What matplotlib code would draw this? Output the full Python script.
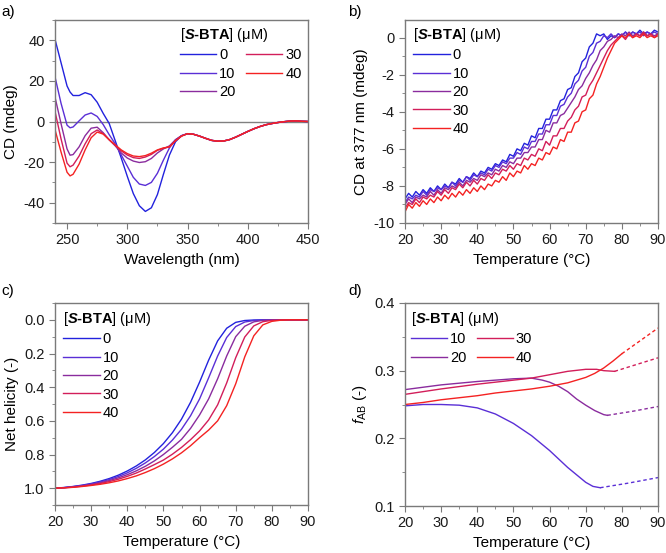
import numpy as np
import matplotlib
matplotlib.use("Agg")
import matplotlib.pyplot as plt
from matplotlib.ticker import MultipleLocator

plt.rcParams["font.family"] = ["Liberation Sans", "DejaVu Sans"]
plt.rcParams["axes.unicode_minus"] = False
plt.rcParams["mathtext.fontset"] = "custom"
plt.rcParams["mathtext.rm"] = "Liberation Sans"
plt.rcParams["mathtext.it"] = "Liberation Sans:italic"
plt.rcParams["mathtext.bf"] = "Liberation Sans:bold"
plt.rcParams["mathtext.bfit"] = "Liberation Sans:italic:bold"

# ---------------------------------------------------------------- data
conc = ["0", "10", "20", "30", "40"]
colors = ["#2222dd", "#5a2fd6", "#8a2c9e", "#d21e5a", "#f42222"]

# (a) CD spectra
wl = [240, 245, 250, 252.5, 255, 260, 265, 270, 275, 280, 285, 290, 295, 300, 305, 310,
      315, 320, 325, 330, 335, 340, 345, 350, 355, 360, 365, 370, 375, 380, 385, 390,
      395, 400, 405, 410, 415, 420, 425, 430, 435, 440, 445, 450]
tail = [-6.3, -7.2, -8.3, -9.3, -9.7, -9.6, -8.9, -7.7, -6.3, -4.9, -3.6, -2.5, -1.6,
        -1.0, -0.5, -0.1, 0.2, 0.3, 0.1, 0.0]
cd_0 = [40.5, 29, 17.5, 14.5, 12.8, 12.8, 14.2, 13.2, 9.5, 4.0, -1.0, -9.5, -18, -27,
        -35.5, -41.5, -44.3, -42.5, -36, -26, -16.5, -10, -7, -6.0] + tail
cd_10 = [22, 9, -1.8, -3.1, -2.7, 0.3, 3.2, 4.2, 2.5, -1.5, -6.5, -11, -16.5, -22,
         -27.5, -30.8, -31.5, -30, -25.5, -19, -13, -9, -7, -6.0] + tail
cd_20 = [12, -1, -13.5, -16.6, -16.3, -12.5, -7, -3.3, -2.8, -5.5, -9, -12, -15.5, -18,
         -19.5, -20.2, -19.8, -18.2, -15.5, -13.5, -12, -9, -7, -6.0] + tail
cd_30 = [5, -8.5, -20.5, -22.3, -21.5, -17, -11, -6.0, -4.2, -6, -9, -11.8, -14.5, -16.5,
         -17.8, -18.2, -17.5, -16.2, -14.2, -13.2, -12.5, -9.5, -7.2, -6.0] + tail
cd_40 = [-4, -15, -25, -26.8, -26, -21, -14, -8, -5.2, -6.2, -9, -11.5, -14, -15.8,
         -17, -17.3, -16.8, -15.6, -14, -13, -12.5, -9.5, -7.2, -6.0] + tail

# (b) CD at 377 nm vs temperature, 1 degC steps 20..90
temp_b = list(range(20, 91))
cdT_0 = [-8.7, -8.4, -8.6, -8.3, -8.5, -8.2, -8.4, -8.1, -8.3, -8.0, -8.2, -7.9, -8.1, -7.8,
         -7.9, -7.6, -7.8, -7.5, -7.6, -7.3, -7.5, -7.2, -7.3, -7.0, -7.1, -6.8, -6.9, -6.6,
         -6.7, -6.3, -6.4, -6.0, -6.1, -5.7, -5.8, -5.3, -5.4, -4.9, -4.9, -4.4, -4.4, -3.9,
         -3.9, -3.4, -3.3, -2.8, -2.7, -2.1, -1.9, -1.3, -1.1, -0.5, -0.3, 0.2, 0.1, 0.2,
         -0.1, 0.1, 0.0, 0.2, 0.1, 0.3, 0.1, 0.3, 0.2, 0.4, 0.2, 0.3, 0.2, 0.4, 0.3]
cdT_10 = [-8.9, -8.6, -8.7, -8.5, -8.6, -8.3, -8.5, -8.2, -8.3, -8.1, -8.2, -8.0, -8.1, -7.8,
          -8.0, -7.7, -7.8, -7.5, -7.7, -7.4, -7.5, -7.3, -7.4, -7.1, -7.2, -6.9, -7.0, -6.7,
          -6.8, -6.5, -6.5, -6.2, -6.3, -5.9, -6.0, -5.6, -5.6, -5.2, -5.2, -4.7, -4.7, -4.2,
          -4.2, -3.7, -3.6, -3.2, -3.0, -2.5, -2.3, -1.8, -1.6, -1.0, -0.8, -0.3, -0.2, 0.1,
          0.0, 0.2, 0.0, 0.2, 0.1, 0.3, 0.1, 0.3, 0.2, 0.3, 0.1, 0.3, 0.2, 0.3, 0.2]
cdT_20 = [-9.0, -8.7, -8.9, -8.6, -8.7, -8.5, -8.6, -8.3, -8.5, -8.2, -8.4, -8.1, -8.2, -8.0,
          -8.1, -7.8, -8.0, -7.7, -7.8, -7.6, -7.7, -7.4, -7.5, -7.3, -7.4, -7.1, -7.2, -6.9,
          -7.0, -6.7, -6.8, -6.5, -6.5, -6.2, -6.2, -5.9, -5.9, -5.5, -5.5, -5.0, -5.1, -4.6,
          -4.6, -4.2, -4.1, -3.8, -3.5, -3.2, -2.8, -2.6, -2.2, -1.9, -1.5, -1.2, -0.7, -0.5,
          -0.2, -0.1, 0.1, 0.0, 0.2, 0.1, 0.3, 0.1, 0.2, 0.1, 0.3, 0.1, 0.2, 0.1, 0.2]
cdT_30 = [-9.2, -8.9, -9.0, -8.7, -8.9, -8.6, -8.7, -8.5, -8.6, -8.3, -8.5, -8.2, -8.4, -8.1,
          -8.2, -7.9, -8.1, -7.8, -8.0, -7.7, -7.9, -7.6, -7.7, -7.4, -7.6, -7.3, -7.4, -7.1,
          -7.2, -6.9, -7.1, -6.8, -6.9, -6.5, -6.6, -6.3, -6.4, -6.0, -6.1, -5.6, -5.8, -5.3,
          -5.3, -4.9, -4.9, -4.5, -4.3, -3.9, -3.7, -3.2, -3.1, -2.6, -2.3, -1.9, -1.5, -1.1,
          -0.7, -0.4, -0.2, 0.0, 0.1, -0.1, 0.2, 0.0, 0.2, 0.1, 0.3, 0.1, 0.2, 0.0, 0.2]
cdT_40 = [-9.4, -9.0, -9.2, -8.9, -9.1, -8.8, -9.0, -8.7, -8.9, -8.6, -8.8, -8.5, -8.7, -8.4,
          -8.6, -8.3, -8.5, -8.2, -8.4, -8.1, -8.3, -8.0, -8.2, -7.9, -8.0, -7.7, -7.8, -7.5,
          -7.7, -7.3, -7.5, -7.2, -7.3, -6.9, -7.1, -6.8, -6.9, -6.5, -6.6, -6.2, -6.3, -5.9,
          -6.0, -5.5, -5.6, -5.1, -5.1, -4.6, -4.5, -4.0, -3.9, -3.3, -3.1, -2.5, -2.1, -1.6,
          -1.1, -0.7, -0.3, -0.1, 0.1, 0.0, 0.2, 0.0, 0.1, 0.0, 0.2, 0.0, 0.1, 0.0, 0.1]

# (c) net helicity, 2.5 degC steps 20..90
temp_c = [20, 22.5, 25, 27.5, 30, 32.5, 35, 37.5, 40, 42.5, 45, 47.5, 50, 52.5, 55, 57.5,
          60, 62.5, 65, 67.5, 70, 72.5, 75, 77.5, 80, 82.5, 85, 87.5, 90]
hel_0 = [1.000, 0.996, 0.990, 0.982, 0.972, 0.959, 0.943, 0.923, 0.898, 0.868, 0.832,
         0.788, 0.735, 0.670, 0.590, 0.490, 0.370, 0.240, 0.125, 0.050, 0.015, 0.004,
         0.001, 0.0, 0.0, 0.0, 0.0, 0.0, 0.0]
hel_10 = [1.000, 0.997, 0.991, 0.984, 0.975, 0.963, 0.949, 0.931, 0.909, 0.882, 0.850,
          0.812, 0.768, 0.714, 0.650, 0.570, 0.470, 0.345, 0.215, 0.105, 0.040, 0.013,
          0.004, 0.001, 0.0, 0.0, 0.0, 0.0, 0.0]
hel_20 = [1.000, 0.997, 0.992, 0.986, 0.978, 0.968, 0.955, 0.939, 0.920, 0.897, 0.870,
          0.838, 0.800, 0.757, 0.710, 0.645, 0.565, 0.470, 0.350, 0.215, 0.100, 0.038,
          0.012, 0.003, 0.001, 0.0, 0.0, 0.0, 0.0]
hel_30 = [1.000, 0.998, 0.994, 0.988, 0.981, 0.972, 0.961, 0.947, 0.930, 0.910, 0.886,
          0.860, 0.833, 0.798, 0.758, 0.712, 0.660, 0.595, 0.505, 0.375, 0.225, 0.102,
          0.036, 0.011, 0.003, 0.001, 0.0, 0.0, 0.0]
hel_40 = [1.000, 0.998, 0.995, 0.990, 0.984, 0.977, 0.968, 0.957, 0.943, 0.927, 0.907,
          0.884, 0.857, 0.826, 0.790, 0.748, 0.700, 0.655, 0.600, 0.510, 0.380, 0.220,
          0.095, 0.030, 0.009, 0.002, 0.0, 0.0, 0.0]

# (d) f_AB, solid (fitted) part and dashed (extrapolated) part
fab_T_10 = [20, 25, 30, 35, 40, 45, 50, 55, 60, 65, 70, 72, 74]
fab_10 = [0.248, 0.250, 0.250, 0.249, 0.245, 0.236, 0.222, 0.204, 0.182, 0.157, 0.135, 0.129, 0.127]
fab_T_20 = [20, 30, 40, 50, 55, 58, 60, 62.5, 65, 67.5, 70, 72.5, 75, 76]
fab_20 = [0.272, 0.279, 0.284, 0.288, 0.289, 0.286, 0.283, 0.277, 0.269, 0.258, 0.249, 0.241, 0.235, 0.234]
fab_T_30 = [20, 30, 40, 50, 55, 60, 65, 70, 73, 75, 78]
fab_30 = [0.265, 0.273, 0.280, 0.286, 0.289, 0.294, 0.299, 0.302, 0.302, 0.300, 0.299]
fab_T_40 = [20, 25, 30, 35, 40, 45, 50, 55, 60, 65, 70, 72.5, 75, 77.5, 80]
fab_40 = [0.250, 0.253, 0.257, 0.260, 0.263, 0.267, 0.270, 0.273, 0.277, 0.282, 0.290, 0.296, 0.304, 0.314, 0.325]
ext_T_10, ext_10 = [74, 82, 90], [0.127, 0.134, 0.142]
ext_T_20, ext_20 = [76, 83, 90], [0.234, 0.240, 0.247]
ext_T_30, ext_30 = [78, 84, 90], [0.299, 0.309, 0.319]
ext_T_40, ext_40 = [80, 85, 90], [0.325, 0.344, 0.363]

# ---------------------------------------------------------------- figure
W, H = 666, 553
fig = plt.figure(figsize=(W / 100, H / 100), dpi=100)


def px_axes(l, t, r, b):
    return fig.add_axes([l / W, 1 - b / H, (r - l) / W, (b - t) / H])


axa = px_axes(55, 20, 308, 223)
axb = px_axes(405, 20, 658, 223)
axc = px_axes(55, 303, 308, 505)
axd = px_axes(405, 303, 658, 506)

spine_c = "#7a7a7a"
for ax in (axa, axb, axc, axd):
    for s in ax.spines.values():
        s.set_color(spine_c)
        s.set_linewidth(1.0)
    ax.tick_params(which="both", direction="out", top=False, right=False,
                   color=spine_c, labelsize=10.5, labelcolor="#1a1a1a")
    ax.tick_params(which="major", length=4)
    ax.tick_params(which="minor", length=2.5)

legend_title = "[$\\mathbfit{S}$$\\mathbf{‐BTA}$] (μM)"
lw = 1.0

# (a)
for y, c, lab in zip([cd_0, cd_10, cd_20, cd_30, cd_40], colors, conc):
    axa.plot(wl, y, color=c, lw=lw, label=lab)
axa.axhline(0, color="#808080", lw=1.0, zorder=0)
axa.set_xlim(240, 450)
axa.set_ylim(-50, 50)
axa.xaxis.set_major_locator(MultipleLocator(50))
axa.xaxis.set_minor_locator(MultipleLocator(25))
axa.yaxis.set_major_locator(MultipleLocator(20))
axa.yaxis.set_minor_locator(MultipleLocator(10))
axa.set_xlabel("Wavelength (nm)", fontsize=11)
axa.set_ylabel("CD (mdeg)", fontsize=11)

# (b)
for y, c, lab in zip([cdT_0, cdT_10, cdT_20, cdT_30, cdT_40], colors, conc):
    axb.plot(temp_b, y, color=c, lw=lw, label=lab)
axb.set_xlim(20, 90)
axb.set_ylim(-10, 0.95)
axb.yaxis.set_major_locator(MultipleLocator(2))
axb.yaxis.set_minor_locator(MultipleLocator(1))
axb.set_ylabel("CD at 377 nm (mdeg)", fontsize=11)

# (c)
for y, c, lab in zip([hel_0, hel_10, hel_20, hel_30, hel_40], colors, conc):
    axc.plot(temp_c, y, color=c, lw=lw, label=lab)
axc.set_xlim(20, 90)
axc.set_ylim(1.1, -0.1)
axc.yaxis.set_major_locator(MultipleLocator(0.2))
axc.yaxis.set_minor_locator(MultipleLocator(0.1))
axc.set_ylabel("Net helicity (-)", fontsize=11)

# (d)
solid = [(fab_T_10, fab_10), (fab_T_20, fab_20), (fab_T_30, fab_30), (fab_T_40, fab_40)]
dashed = [(ext_T_10, ext_10), (ext_T_20, ext_20), (ext_T_30, ext_30), (ext_T_40, ext_40)]
for (xs, ys), (xe, ye), c, lab in zip(solid, dashed, colors[1:], conc[1:]):
    axd.plot(xs, ys, color=c, lw=lw, label=lab)
    axd.plot(xe, ye, color=c, lw=lw, ls=(0, (2.5, 2)))
axd.set_xlim(20, 90)
axd.set_ylim(0.1, 0.4)
axd.yaxis.set_major_locator(MultipleLocator(0.1))
axd.yaxis.set_minor_locator(MultipleLocator(0.05))
axd.set_ylabel("$f_{\\mathrm{AB}}$ (-)", fontsize=11)

for ax in (axb, axc, axd):
    ax.xaxis.set_major_locator(MultipleLocator(10))
    ax.xaxis.set_minor_locator(MultipleLocator(5))
    ax.set_xlabel("Temperature (°C)", fontsize=11)

leg_kw = dict(frameon=False, fontsize=10.5, title_fontsize=10.5, handlelength=2.5,
              handletextpad=0.2, labelspacing=0.3, columnspacing=0.7, borderpad=0,
              borderaxespad=0, alignment="left", loc="upper left")
axa.legend(ncol=2, title=legend_title, bbox_to_anchor=(0.494, 0.97), **leg_kw)
axb.legend(ncol=1, title=legend_title, bbox_to_anchor=(0.032, 0.97), **leg_kw)
axc.legend(ncol=1, title=legend_title, bbox_to_anchor=(0.033, 0.965), **leg_kw)
axd.legend(ncol=2, title=legend_title, bbox_to_anchor=(0.022, 0.965), **leg_kw)

for lab, x, y in [("a)", 1, 12), ("b)", 348, 12), ("c)", 1, 291), ("d)", 348, 291)]:
    fig.text(x / W, 1 - y / H, lab, fontsize=11, va="center", ha="left")

fig.savefig("out.png", dpi=100)
